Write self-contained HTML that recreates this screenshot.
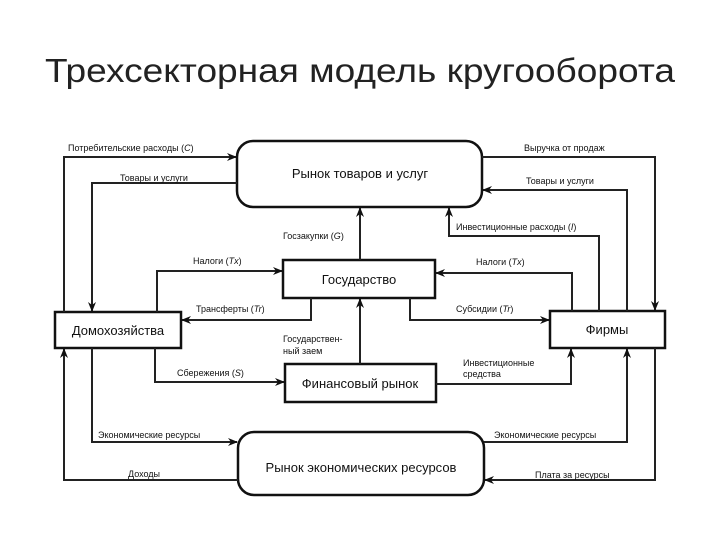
<!DOCTYPE html>
<html><head><meta charset="utf-8"><style>
body{margin:0;background:#fff;}
svg{display:block}
text{font-family:"Liberation Sans",sans-serif;fill:#111}
.s{font-size:9px}
.b{font-size:13px}
</style></head><body>
<svg width="720" height="540" viewBox="0 0 720 540">
<defs><marker id="a" markerWidth="10" markerHeight="8" refX="9" refY="4" orient="auto" markerUnits="userSpaceOnUse"><path d="M0,0 L10,4 L0,8 L3,4 z" fill="#111"/></marker></defs>
<text x="45" y="82" textLength="630" lengthAdjust="spacingAndGlyphs" style="font-size:33px;fill:#222">Трехсекторная модель кругооборота</text>
<g fill="#fff" stroke="#111" stroke-width="2.5">
<rect x="237" y="141" width="245" height="66" rx="16"/>
<rect x="55" y="312" width="126" height="36"/>
<rect x="550" y="311" width="115" height="37"/>
<rect x="283" y="260" width="152" height="38"/>
<rect x="285" y="364" width="151" height="38"/>
<rect x="238" y="432" width="246" height="63" rx="16"/>
</g>
<g fill="none" stroke="#222" stroke-width="2" marker-end="url(#a)">
<polyline points="64,312 64,157 236,157"/>
<polyline points="237,183 92,183 92,311"/>
<polyline points="482,157 655,157 655,310"/>
<polyline points="627,311 627,190 483,190"/>
<polyline points="599,311 599,236 449,236 449,208"/>
<polyline points="572,311 572,273 436,273"/>
<polyline points="410,298 410,320 549,320"/>
<polyline points="360,260 360,208"/>
<polyline points="157,312 157,271 282,271"/>
<polyline points="311,298 311,320 182,320"/>
<polyline points="360,364 360,299"/>
<polyline points="155,348 155,382 284,382"/>
<polyline points="436,384 571,384 571,349"/>
<polyline points="92,348 92,442 237,442"/>
<polyline points="238,480 64,480 64,349"/>
<polyline points="484,442 627,442 627,349"/>
<polyline points="655,348 655,480 485,480"/>
</g>
<text class="b" x="360" y="178" text-anchor="middle">Рынок товаров и услуг</text>
<text class="b" x="118" y="335" text-anchor="middle">Домохозяйства</text>
<text class="b" x="607" y="334" text-anchor="middle">Фирмы</text>
<text class="b" x="359" y="284" text-anchor="middle">Государство</text>
<text class="b" x="360" y="388" text-anchor="middle">Финансовый рынок</text>
<text class="b" x="361" y="472" text-anchor="middle">Рынок экономических ресурсов</text>
<text class="s" x="68" y="151">Потребительские расходы (<tspan font-style="italic">C</tspan>)</text>
<text class="s" x="120" y="181">Товары и услуги</text>
<text class="s" x="524" y="151">Выручка от продаж</text>
<text class="s" x="526" y="184">Товары и услуги</text>
<text class="s" x="456" y="230">Инвестиционные расходы (<tspan font-style="italic">I</tspan>)</text>
<text class="s" x="283" y="239">Госзакупки (<tspan font-style="italic">G</tspan>)</text>
<text class="s" x="193" y="264">Налоги (<tspan font-style="italic">Tx</tspan>)</text>
<text class="s" x="476" y="265">Налоги (<tspan font-style="italic">Tx</tspan>)</text>
<text class="s" x="196" y="312">Трансферты (<tspan font-style="italic">Tr</tspan>)</text>
<text class="s" x="456" y="312">Субсидии (<tspan font-style="italic">Tr</tspan>)</text>
<text class="s" x="283" y="342">Государствен-</text>
<text class="s" x="283" y="354">ный заем</text>
<text class="s" x="177" y="376">Сбережения (<tspan font-style="italic">S</tspan>)</text>
<text class="s" x="463" y="366">Инвестиционные</text>
<text class="s" x="463" y="377">средства</text>
<text class="s" x="98" y="438">Экономические ресурсы</text>
<text class="s" x="494" y="438">Экономические ресурсы</text>
<text class="s" x="128" y="477">Доходы</text>
<text class="s" x="535" y="478">Плата за ресурсы</text>
</svg>
</body></html>
